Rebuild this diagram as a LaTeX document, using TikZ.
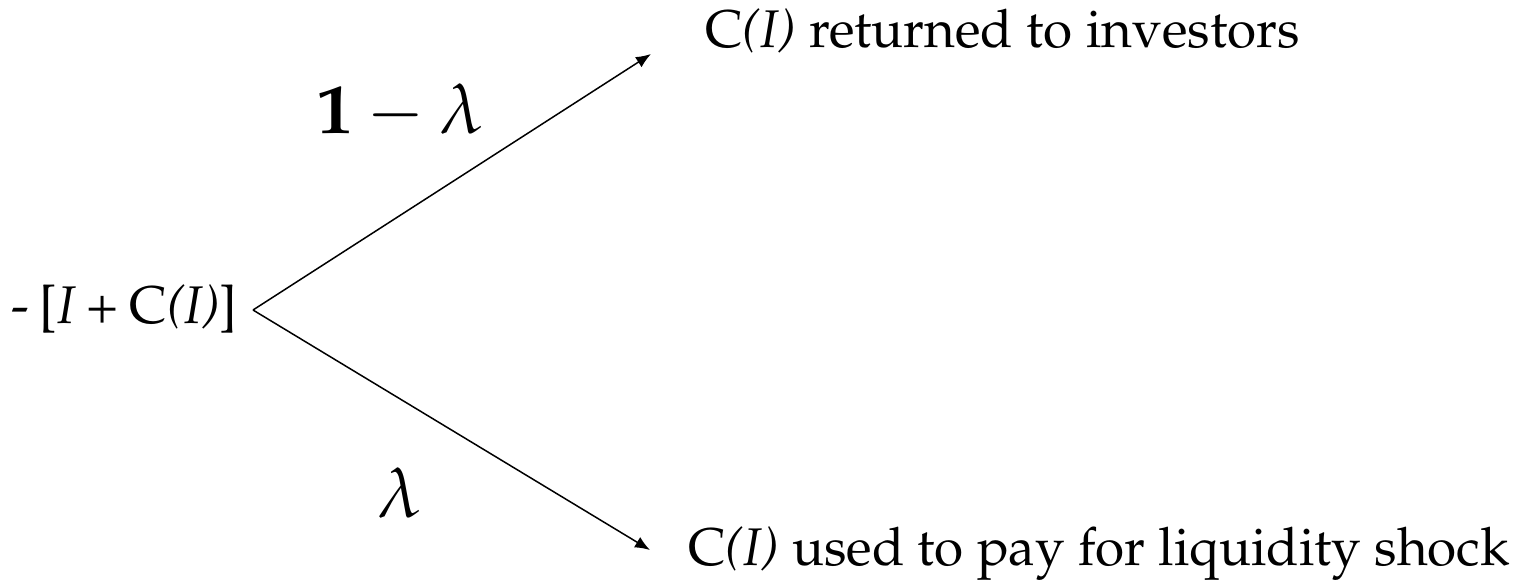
\documentclass[tikz,border=0pt]{standalone}
\usepackage[T1]{fontenc}
\usepackage{mathpazo}
\usetikzlibrary{arrows.meta}
\tikzset{
  lbl/.style={inner sep=0pt, font=\fontsize{26.5}{32}\selectfont},
  prob/.style={inner sep=0pt, font=\fontsize{35}{40}\selectfont},
  branch/.style={line width=0.75pt, -{Latex[length=7.5pt,width=6pt]}}
}
\begin{document}
\begin{tikzpicture}[x=0.5pt,y=-0.5pt]
\useasboundingbox (0,0) rectangle (1518,579);
\node[lbl, anchor=base east] (root) at (238,323) {-\hspace{0.2em}[\textit{I}\hspace{0.2em}+\hspace{0.2em}C\textit{(I)}]};
\coordinate (v) at (253,310);
\coordinate (up) at (651,54);
\coordinate (dn) at (650,550);
\node[lbl, anchor=base west] (top) at (705,47) {C\textit{(I)} returned to investors};
\node[lbl, anchor=base west] (bot) at (688,565) {C\textit{(I)} used to pay for liquidity shock};
\node[prob, anchor=base] (p1) at (400,133) {$\mathbf{1}-\lambda$};
\node[prob, anchor=base] (p2) at (400,517) {$\lambda$};
\draw[branch] (v) -- (up);
\draw[branch] (v) -- (dn);
\end{tikzpicture}
\end{document}
